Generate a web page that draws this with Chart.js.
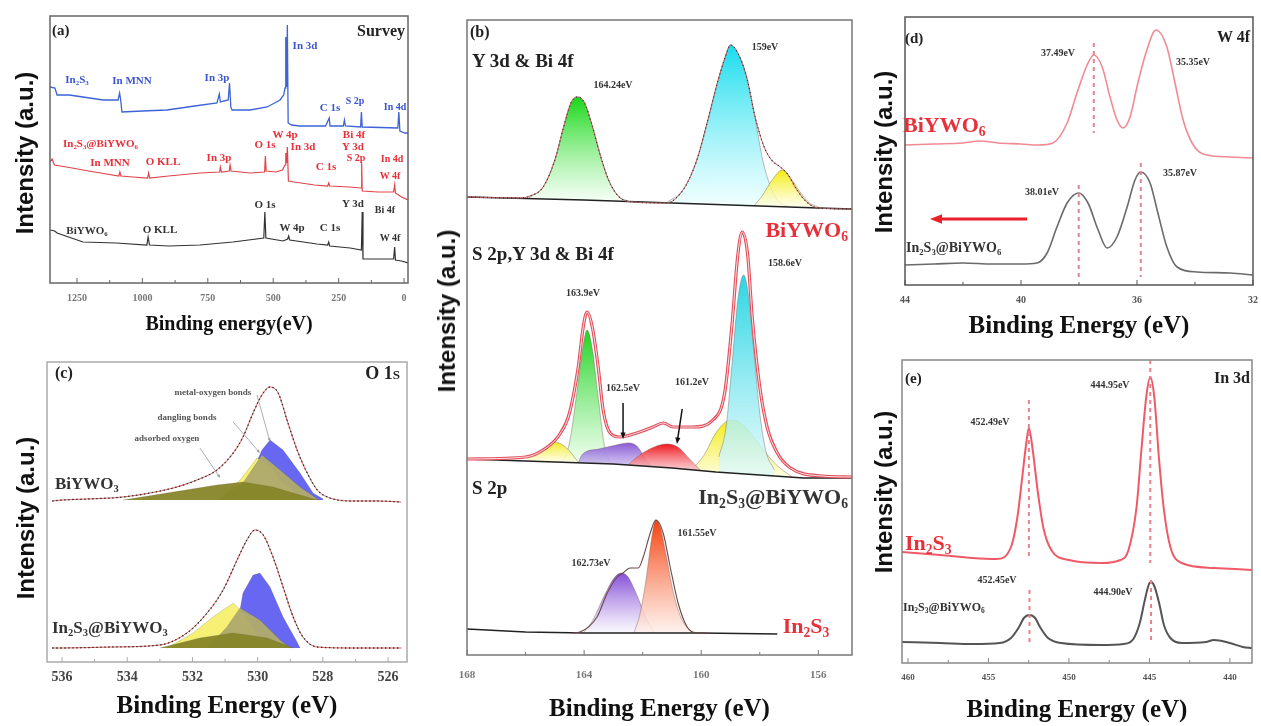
<!DOCTYPE html>
<html>
<head>
<meta charset="utf-8">
<script src="https://cdn.jsdelivr.net/npm/chart.js@4.4.0/dist/chart.umd.min.js"></script>
<style>
  body { margin: 0; background: #fff; }
  #fig { position: relative; width: 1261px; height: 726px; overflow: hidden; }
  #fig canvas { position: absolute; }
  .t { position: absolute; white-space: nowrap; line-height: 1; font-family: "Liberation Serif", "DejaVu Serif", serif; font-weight: bold; }
  .t sub { font-size: 0.62em; vertical-align: -0.3em; line-height: 0; }
  .yt { position: absolute; white-space: nowrap; font: bold 24px "Liberation Sans", Arial, sans-serif; color: #111; transform: translate(-50%, -50%) rotate(-90deg); }
</style>
</head>
<body>
<div id="fig">
  <canvas id="ca" width="420" height="340" style="left:0;top:0"></canvas>
  <canvas id="cb" width="440" height="726" style="left:425px;top:0"></canvas>
  <canvas id="cc" width="420" height="381" style="left:0;top:345px"></canvas>
  <canvas id="cd" width="391" height="345" style="left:870px;top:0"></canvas>
  <canvas id="ce" width="391" height="381" style="left:870px;top:345px"></canvas>
</div>
<script>
// all spectra are [binding energy (eV), intensity (a.u.)], high energy first

// (a) survey
const surveyIn2S3 = [[1353,196],[1334,195],[1326,188],[1280,188],[1227,186],[1150,183],[1093,183],[1087,190],[1083,183],[1078,171],[1000,172],[906,173],[800,177],[715,180],[706,189],[702,181],[672,183],[667,200],[662,176],[657,173],[588,173],[523,176],[474,183],[460,188],[455,195],[452,246],[449,196],[446,258],[443,160],[430,158],[398,157],[300,157],[286,165],[283,157],[232,157],[228,163],[224,157],[166,156],[163,171],[160,156],[24,155],[20,171],[16,152],[-3,150],[-15,150]];
const surveyComposite = [[1353,121],[1345,124],[1336,118],[1290,116],[1227,113],[1160,110],[1090,107],[1086,111],[1082,107],[1036,106],[980,105],[976,110],[972,105],[900,107],[780,110],[705,111],[702,116],[698,111],[668,112],[665,118],[661,112],[588,110],[533,111],[530,127],[527,112],[490,111],[465,113],[455,118],[452,130],[449,120],[446,136],[442,102],[420,101],[342,98],[292,97],[288,100],[284,97],[210,96],[164,95],[162,120],[160,92],[100,91],[40,91],[36,98],[33,90],[10,86],[-15,83]];
const surveyBiYWO6 = [[1353,53],[1335,52],[1326,50],[1227,41],[1100,40],[983,38],[978,46],[973,38],[900,37],[780,38],[654,41],[536,45],[532,71],[528,45],[462,42],[445,44],[441,47],[437,43],[333,39],[292,38],[288,41],[284,37],[206,35],[163,33],[160,71],[157,24],[100,24],[40,24],[36,36],[33,23],[10,22],[-15,20]];

// (b) Y 3d & Bi 4f of BiYWO6
const bBase1 = [[168,458],[164,455],[161,452],[158,449],[156,447],[154.85,446]];
const bEnv1 = [[168,458],[166.2,457],[165.85,459],[165.4,468],[165.0,495],[164.7,528],[164.45,552],[164.24,558],[164.0,553],[163.75,532],[163.45,500],[163.15,474],[162.8,458],[162.3,453],[161.2,452],[160.6,466],[160.15,495],[159.8,532],[159.45,572],[159.18,598],[159.0,610],[158.75,602],[158.45,578],[158.15,537],[157.85,508],[157.6,495],[157.3,488],[157.05,481],[156.75,466],[156.4,453],[156.0,447],[154.85,446]];
const bGreen1 = [[165.9,457],[165.4,468],[165.0,495],[164.7,528],[164.45,552],[164.24,558],[164.0,553],[163.75,532],[163.45,500],[163.15,474],[162.8,458],[162.5,454]];
const bCyan1 = [[161.2,452],[160.6,466],[160.15,495],[159.8,532],[159.45,572],[159.18,598],[159.0,610],[158.75,602],[158.45,578],[158.15,535],[157.9,495],[157.6,466],[157.3,452],[157.0,449]];
const bYellow1 = [[158.2,449],[157.9,460],[157.6,474],[157.23,485],[156.9,475],[156.6,462],[156.3,452],[156.0,448]];

// (b) S 2p, Y 3d & Bi 4f of In2S3@BiYWO6
const bBase2 = [[168,196],[165,193],[163,191],[161,187],[159.5,183],[158,180],[156.5,177],[154.85,177]];
const bEnv2 = [[168,196],[166,198],[165.3,207],[164.85,220],[164.5,242],[164.2,288],[164.03,328],[163.9,343],[163.72,328],[163.52,288],[163.35,245],[163.11,222],[162.77,218],[162.2,222],[161.65,228],[161.3,232],[160.96,228],[160.3,228],[159.6,235],[159.2,262],[158.95,330],[158.75,400],[158.6,423],[158.42,402],[158.25,335],[158.0,268],[157.75,228],[157.4,202],[156.95,187],[155.9,179],[154.85,178]];
const bYellowL2 = [[165.95,197],[165.5,203],[165.0,213],[164.6,207],[164.2,193]];
const bGreen2 = [[164.75,193],[164.5,212],[164.25,262],[164.05,306],[163.9,325],[163.72,306],[163.52,258],[163.3,208],[163.1,192]];
const bPurple2 = [[164.2,192],[164.05,201],[163.5,206],[162.9,210],[162.5,212],[162.2,209],[161.9,196],[161.7,188]];
const bRed2 = [[162.5,190],[162.1,200],[161.6,208],[161.2,211],[160.8,208],[160.4,196],[160.0,184]];
const bYellowR2 = [[160.3,186],[159.9,200],[159.5,222],[159.1,234],[158.9,235],[158.5,228],[158.0,210],[157.5,192],[156.9,178]];
const bCyan2 = [[159.4,198],[159.15,228],[158.95,290],[158.75,355],[158.55,380],[158.4,362],[158.2,302],[158.0,242],[157.8,205],[157.5,185]];

// (b) S 2p of In2S3
const bBase3 = [[168,26],[166,23],[164,22],[160,22],[157.4,21]];
const bEnv3 = [[164.4,22],[164.14,23],[163.56,38],[163.21,62],[162.87,78],[162.67,82],[162.43,87],[162.15,87],[161.98,98],[161.74,122],[161.55,135],[161.3,122],[161.06,88],[160.79,52],[160.48,28],[160.14,22],[159.8,22]];
const bPurple3 = [[164.03,22],[163.7,35],[163.3,60],[162.95,78],[162.73,82],[162.5,78],[162.2,60],[161.9,38],[161.6,22]];
const bOrange3 = [[162.3,22],[162.1,40],[161.9,72],[161.7,115],[161.55,135],[161.4,128],[161.2,100],[160.95,62],[160.7,38],[160.4,25],[160.14,22]];

// (c) O 1s
const cEnvTop = [[536.3,161],[536.0,162],[535.2,163],[534.13,165],[533.3,169],[532.59,174],[531.86,182],[531.25,192],[530.75,209],[530.45,225],[530.14,249],[529.87,267],[529.62,275],[529.37,269],[529.1,242],[528.79,212],[528.48,189],[528.17,172],[527.78,164],[527.0,161],[526.3,161],[525.6,160]];
const cBlueTop = [[530.33,163],[530.14,192],[529.87,212],[529.62,222],[529.22,212],[528.7,189],[528.3,169],[527.99,163]];
const cYellowTop = [[531.15,164],[530.54,182],[530.14,199],[530.02,204],[529.6,196],[529.31,182],[528.61,163]];
const cKhakiTop = [[531.15,163],[530.45,179],[529.87,207],[529.31,192],[528.7,175],[528.17,163]];
const cOliveTop = [[534.13,162],[532.59,170],[531.25,177],[530.45,180],[529.53,175],[528.7,167],[528.17,162]];
const cEnvBot = [[536.3,14],[536.0,14],[534.5,15],[533.0,17],[532.17,29],[531.55,49],[531.06,72],[530.63,102],[530.33,122],[530.08,132],[529.83,127],[529.53,105],[529.22,75],[528.91,45],[528.61,25],[528.17,15],[527.0,14],[526.0,14],[525.6,14]];
const cBlueBot = [[530.75,14],[530.45,69],[530.14,87],[529.93,89],[529.62,75],[529.22,45],[528.79,20],[528.7,14]];
const cYellowBot = [[532.78,14],[531.98,29],[531.37,45],[530.75,59],[530.33,45],[529.93,22],[529.71,14]];
const cKhakiBot = [[531.55,14],[530.94,35],[530.54,54],[529.93,42],[529.31,22],[529.0,14]];
const cOliveBot = [[533.0,14],[531.77,24],[530.75,29],[529.71,24],[528.91,14]];

// (d) W 4f
const dBiYWO6 = [[44.0,140],[43.0,141],[42.0,142],[41.4,144],[40.8,142],[40.0,141],[39.4,140],[38.9,142],[38.41,162],[38.07,192],[37.72,220],[37.49,230],[37.2,218],[36.93,188],[36.69,165],[36.48,157],[36.24,168],[35.97,202],[35.66,235],[35.35,255],[34.97,238],[34.69,202],[34.41,165],[34.1,142],[33.72,131],[32.79,128],[32.0,127]];
const dComposite = [[44.0,20],[43.0,21],[42.0,22],[41.0,21],[40.0,21],[39.45,22],[39.1,32],[38.76,58],[38.41,82],[38.01,92],[37.69,82],[37.34,55],[37.03,37],[36.69,48],[36.34,78],[36.07,105],[35.87,113],[35.55,102],[35.28,72],[34.97,38],[34.62,18],[33.93,13],[32.79,12],[32.0,10]];
const dPeakMarks = [[[37.49,242],[37.49,152]], [[38.01,100],[38.01,8]], [[35.87,122],[35.87,8]]];

// (e) In 3d
const eIn2S3 = [[460.37,111],[458,108],[456,105],[454.5,104],[453.6,116],[453.2,146],[452.9,186],[452.65,220],[452.49,235],[452.25,213],[451.95,173],[451.6,136],[451.1,113],[450,103],[448,100],[446.8,103],[446.3,113],[445.8,156],[445.5,213],[445.2,266],[444.95,286],[444.7,266],[444.4,203],[444.1,153],[443.7,116],[443,100],[441,95],[438.63,93]];
const eComposite = [[460.37,21],[458,20],[456,19],[454.3,20],[453.6,25],[453.1,36],[452.8,45],[452.45,48],[452.1,45],[451.8,36],[451.3,25],[450.5,20],[448,18],[446.6,19],[446,24],[445.6,40],[445.3,62],[445.05,78],[444.9,81],[444.7,77],[444.4,60],[444.1,38],[443.7,25],[443,20],[441.5,21],[441,23],[440,20],[439.2,16],[438.63,15]];
const ePeakMarks = [[[452.49,263],[452.49,106]], [[444.95,303],[444.95,100]], [[452.45,73],[452.45,20]], [[444.90,83],[444.90,23]]];

// ---------- helpers ----------
function line(data, color, width, order, extra) {
  return Object.assign({ data, borderColor: color, borderWidth: width, pointRadius: 0,
    fill: false, tension: 0, order }, extra || {});
}
function smooth(data, color, width, order, extra) {
  return line(data, color, width, order, Object.assign({ cubicInterpolationMode: 'monotone' }, extra || {}));
}
// vertical gradient from the peak of the dataset down to its lowest value
function grad(top, bottom) {
  return c => {
    const chart = c.chart, y = chart.scales && chart.scales.y;
    if (!chart.chartArea || !y || !c.dataset) return top;
    const vals = c.dataset.data.map(p => p[1]);
    const g = chart.ctx.createLinearGradient(0, y.getPixelForValue(Math.max(...vals)), 0, y.getPixelForValue(Math.min(...vals)));
    g.addColorStop(0, top);
    g.addColorStop(1, bottom);
    return g;
  };
}
function peak(data, fillTo, top, bottom, order) {
  return smooth(data, 'rgba(120,95,95,0.55)', 0.8, order, { fill: fillTo, backgroundColor: grad(top, bottom) });
}
function area(data, fillTo, color, order) {
  return line(data, 'rgba(90,90,60,0.35)', 0.6, order, { fill: fillTo, backgroundColor: color });
}
function isMajor(v, m) { return Math.abs(v / m - Math.round(v / m)) < 1e-6; }

function arrow(ctx, x0, y0, x1, y1, color, width, head) {
  const a = Math.atan2(y1 - y0, x1 - x0);
  ctx.strokeStyle = color; ctx.fillStyle = color; ctx.lineWidth = width;
  ctx.beginPath();
  ctx.moveTo(x0, y0);
  ctx.lineTo(x1 - head * 0.7 * Math.cos(a), y1 - head * 0.7 * Math.sin(a));
  ctx.stroke();
  ctx.beginPath();
  ctx.moveTo(x1, y1);
  ctx.lineTo(x1 - head * Math.cos(a - 0.38), y1 - head * Math.sin(a - 0.38));
  ctx.lineTo(x1 - head * Math.cos(a + 0.38), y1 - head * Math.sin(a + 0.38));
  ctx.closePath();
  ctx.fill();
}

// box around the plot, inward tick marks with their labels, annotation arrows
const frame = {
  id: 'frame',
  afterDraw(chart, args, o) {
    const { ctx, chartArea: a, scales: { x, y } } = chart;
    ctx.save();
    ctx.strokeStyle = o.color; ctx.lineWidth = o.width;
    ctx.strokeRect(a.left, a.top, a.right - a.left, a.bottom - a.top);
    ctx.lineWidth = 1;
    ctx.font = `bold ${o.tickSize}px "Liberation Serif"`;
    ctx.textAlign = 'center';
    ctx.textBaseline = 'middle';
    x.ticks.forEach((t, i) => {
      const px = x.getPixelForTick(i);
      const major = isMajor(t.value, o.major);
      ctx.strokeStyle = o.color;
      ctx.beginPath();
      ctx.moveTo(px, a.bottom);
      ctx.lineTo(px, a.bottom - (major ? 5 : 3));
      ctx.stroke();
      if (major) {
        ctx.fillStyle = o.tickColor;
        ctx.fillText(String(Math.round(t.value)), px, a.bottom + o.tickGap);
      }
    });
    (o.arrows || []).forEach(r => arrow(ctx,
      x.getPixelForValue(r.from[0]), y.getPixelForValue(r.from[1]),
      x.getPixelForValue(r.to[0]), y.getPixelForValue(r.to[1]), r.color, r.width, r.head));
    ctx.restore();
  }
};

function panel(id, o) {
  return new Chart(document.getElementById(id), {
    type: 'line',
    data: { datasets: o.datasets },
    options: {
      responsive: false, animation: false, events: [],
      layout: { padding: o.pad },
      plugins: { legend: { display: false }, tooltip: { enabled: false },
        frame: { color: o.frameColor, width: 1.5, arrows: o.arrows, major: o.major,
          tickGap: o.tickGap, tickSize: o.tickSize, tickColor: o.tickColor } },
      scales: {
        x: {
          type: 'linear', reverse: true, min: o.xmin, max: o.xmax,
          afterFit: s => { s.height = o.xh; },
          // ticks on whole multiples of the step, from the low end of the range
          afterBuildTicks: s => {
            const t = [];
            for (let k = Math.ceil(s.min / o.step - 1e-9); k * o.step <= s.max + 1e-9; k++) {
              t.push({ value: +(k * o.step).toFixed(6) });
            }
            s.ticks = t;
          },
          grid: { display: false }, border: { display: false },
          ticks: { display: false, autoSkip: false },
          title: { display: true, text: o.xtitle || 'Binding Energy (eV)', color: '#111',
            font: { family: 'Liberation Serif', size: o.titleSize || 25, weight: 'bold' },
            padding: { top: 0, bottom: o.titlePad } }
        },
        y: { display: false, min: 0, max: o.ymax }
      }
    },
    plugins: [frame]
  });
}

// ---------- (a) survey ----------
panel('ca', {
  pad: { left: 50, right: 12, top: 16, bottom: 0 }, xh: 57,
  xmin: -15, xmax: 1353, step: 125, major: 250, ymax: 267,
  tickGap: 15, tickSize: 10, tickColor: '#777', frameColor: '#666',
  xtitle: 'Binding energy(eV)', titleSize: 20, titlePad: 3,
  datasets: [
    line(surveyIn2S3, '#3d63d6', 1.3, 2),
    line(surveyComposite, '#e0444a', 1.2, 1),
    line(surveyBiYWO6, '#333', 1.2, 0)
  ]
});

// ---------- (b) stacked high-resolution spectra ----------
panel('cb', {
  pad: { left: 42, right: 13, top: 20, bottom: 0 }, xh: 71,
  xmin: 154.85, xmax: 168, step: 2, major: 4, ymax: 635,
  tickGap: 20, tickSize: 11, tickColor: '#777', frameColor: '#777', titlePad: 1,
  arrows: [
    { from: [162.67, 252], to: [162.67, 216], color: '#111', width: 1.5, head: 7 },
    { from: [160.65, 246], to: [160.83, 211], color: '#111', width: 1.5, head: 7 }
  ],
  datasets: [
    line(bBase1, '#222', 1.6, 3),
    line(bBase2, '#222', 1.6, 3),
    line(bBase3, '#222', 1.6, 3),
    peak(bGreen1, 0, '#18d818', 'rgba(240,255,240,0.7)', 8),
    peak(bCyan1, 0, '#18dcee', 'rgba(235,255,255,0.7)', 8),
    peak(bYellow1, 0, '#f2ec0c', 'rgba(255,255,230,0.7)', 7),
    smooth(bEnv1, '#c06060', 1, 2),
    smooth(bEnv1, '#333', 1.2, 1, { borderDash: [1, 3] }),
    peak(bGreen2, 1, '#22d422', 'rgba(235,255,235,0.8)', 8),
    peak(bYellowL2, 1, '#f2ea28', 'rgba(255,255,225,0.8)', 7),
    peak(bPurple2, 1, '#8a5cd6', 'rgba(205,190,240,0.8)', 7),
    peak(bRed2, 1, '#f01820', 'rgba(250,200,205,0.8)', 6),
    peak(bYellowR2, 1, '#f2ec10', 'rgba(255,252,215,0.8)', 8),
    peak(bCyan2, 1, '#2ad6e4', 'rgba(220,248,250,0.8)', 6),
    smooth(bEnv2, '#e0505c', 3.2, 2),
    smooth(bEnv2, 'rgba(255,232,234,0.95)', 1, 1),
    peak(bPurple3, 2, '#8650d8', 'rgba(250,248,255,0.8)', 8),
    peak(bOrange3, 2, '#f5420e', 'rgba(255,240,234,0.8)', 7),
    smooth(bEnv3, '#6a4848', 1.1, 2)
  ]
});

// ---------- (c) O 1s ----------
panel('cc', {
  pad: { left: 47, right: 13, top: 17, bottom: 0 }, xh: 64,
  xmin: 525.42, xmax: 536.46, step: 1, major: 2, ymax: 300,
  tickGap: 15, tickSize: 14, tickColor: '#444', frameColor: '#aaa', titlePad: 4,
  arrows: [
    { from: [530.02, 267], to: [529.62, 220], color: '#999', width: 0.8, head: 4 },
    { from: [530.75, 240], to: [529.93, 209], color: '#999', width: 0.8, head: 4 },
    { from: [531.77, 214], to: [531.15, 184], color: '#999', width: 0.8, head: 4 }
  ],
  datasets: [
    area(cBlueTop, { value: 162 }, 'rgba(95,95,240,0.95)', 6),
    area(cYellowTop, { value: 162 }, 'rgba(246,240,110,0.95)', 5),
    area(cKhakiTop, { value: 162 }, 'rgba(176,170,108,0.97)', 4),
    area(cOliveTop, { value: 162 }, 'rgba(135,133,40,0.95)', 3),
    smooth(cEnvTop, '#e06060', 1, 2),
    smooth(cEnvTop, '#333', 1.3, 1, { borderDash: [1.5, 2.5] }),
    area(cBlueBot, { value: 14 }, 'rgba(95,95,240,0.95)', 6),
    area(cYellowBot, { value: 14 }, 'rgba(246,240,110,0.95)', 5),
    area(cKhakiBot, { value: 14 }, 'rgba(176,170,108,0.97)', 4),
    area(cOliveBot, { value: 14 }, 'rgba(135,133,40,0.95)', 3),
    smooth(cEnvBot, '#e06060', 1, 2),
    smooth(cEnvBot, '#333', 1.3, 1, { borderDash: [1.5, 2.5] })
  ]
});

// ---------- (d) W 4f ----------
panel('cd', {
  pad: { left: 35, right: 8, top: 17, bottom: 0 }, xh: 60,
  xmin: 32, xmax: 44, step: 2, major: 4, ymax: 268,
  tickGap: 15, tickSize: 10, tickColor: '#555', frameColor: '#555', titlePad: 3,
  arrows: [{ from: [39.79, 66], to: [43.14, 66], color: '#e8202a', width: 3, head: 13 }],
  datasets: [
    smooth(dBiYWO6, '#f08a94', 1.6, 1),
    smooth(dComposite, '#6a6a6a', 1.6, 1)
  ].concat(dPeakMarks.map(m => line(m, '#e8808e', 2, 0, { borderDash: [4, 4] })))
});

// ---------- (e) In 3d ----------
panel('ce', {
  pad: { left: 32, right: 9, top: 15, bottom: 0 }, xh: 63,
  xmin: 438.63, xmax: 460.37, step: 2.5, major: 5, ymax: 303,
  tickGap: 15, tickSize: 9, tickColor: '#555', frameColor: '#888', titlePad: 0,
  datasets: [
    smooth(eIn2S3, '#ef5a66', 2, 1),
    smooth(eComposite, '#555', 2, 1)
  ].concat(ePeakMarks.map(m => line(m, '#e8808e', 2, 0, { borderDash: [4, 4] })))
});

// ---------- text ----------
const BLUE = '#3c55d0', RED = '#e8303a', GREY = '#333';
const IS = 'In<sub>2</sub>S<sub>3</sub>';
const notes = [
  // [html, x, y, size, color, anchor]
  ['(a)', 52, 30, 15, '#222', 'l'], ['Survey', 405, 31, 16, '#222', 'r'],
  [IS, 77, 79, 11, BLUE, 'c'], ['In MNN', 132, 80, 11, BLUE, 'c'], ['In 3p', 217, 77, 11, BLUE, 'c'],
  ['In 3d', 305, 45, 11, BLUE, 'c'], ['C 1s', 330, 107, 11, BLUE, 'c'], ['S 2p', 355, 101, 10, BLUE, 'c'],
  ['In 4d', 395, 107, 10, BLUE, 'c'],
  [IS + '@BiYWO<sub>6</sub>', 63, 143, 11, RED, 'l'], ['In MNN', 110, 162, 11, RED, 'c'],
  ['O KLL', 163, 161, 11, RED, 'c'], ['In 3p', 219, 157, 11, RED, 'c'], ['O 1s', 265, 144, 11, RED, 'c'],
  ['W 4p', 285, 134, 11, RED, 'c'], ['In 3d', 303, 146, 11, RED, 'c'], ['C 1s', 326, 166, 11, RED, 'c'],
  ['Bi 4f', 354, 134, 11, RED, 'c'], ['Y 3d', 353, 146, 11, RED, 'c'], ['S 2p', 356, 158, 10, RED, 'c'],
  ['In 4d', 392, 159, 10, RED, 'c'], ['W 4f', 390, 176, 10, RED, 'c'],
  ['BiYWO<sub>6</sub>', 87, 230, 11, GREY, 'c'], ['O KLL', 160, 229, 11, GREY, 'c'], ['O 1s', 265, 204, 11, GREY, 'c'],
  ['W 4p', 292, 227, 11, GREY, 'c'], ['C 1s', 330, 227, 11, GREY, 'c'], ['Y 3d', 353, 203, 11, GREY, 'c'],
  ['Bi 4f', 385, 210, 10, GREY, 'c'], ['W 4f', 390, 238, 10, GREY, 'c'],

  ['(b)', 470, 32, 16, '#222', 'l'], ['Y 3d &amp; Bi 4f', 472, 60, 19, '#222', 'l'],
  ['164.24eV', 613, 85, 10, GREY, 'c'], ['159eV', 765, 47, 10, GREY, 'c'],
  ['BiYWO<sub>6</sub>', 848, 230, 22, RED, 'r'],
  ['S 2p,Y 3d &amp; Bi 4f', 472, 253, 19, '#222', 'l'],
  ['163.9eV', 583, 293, 10, GREY, 'c'], ['162.5eV', 623, 388, 10, GREY, 'c'],
  ['161.2eV', 692, 382, 10, GREY, 'c'], ['158.6eV', 785, 263, 10, GREY, 'c'],
  ['S 2p', 472, 487, 19, '#222', 'l'], [IS + '@BiYWO<sub>6</sub>', 848, 497, 22, '#333', 'r'],
  ['162.73eV', 591, 563, 10, GREY, 'c'], ['161.55eV', 697, 533, 10, GREY, 'c'],
  [IS, 806, 626, 22, RED, 'c'],

  ['(c)', 55, 373, 16, '#222', 'l'],
  ['O <span style="font-variant:small-caps">1s</span>', 400, 373, 18, '#222', 'r'],
  ['metal-oxygen bonds', 213, 392, 9, '#555', 'c'], ['dangling bonds', 187, 417, 9, '#555', 'c'],
  ['adsorbed oxygen', 167, 438, 9, '#555', 'c'],
  ['BiYWO<sub>3</sub>', 55, 483, 17, GREY, 'l'], [IS + '@BiYWO<sub>3</sub>', 52, 627, 17, GREY, 'l'],

  ['(d)', 905, 38, 15, '#222', 'l'], ['W 4f', 1250, 37, 16, '#222', 'r'],
  ['37.49eV', 1058, 53, 10, GREY, 'c'], ['35.35eV', 1193, 62, 10, GREY, 'c'],
  ['38.01eV', 1042, 192, 10, GREY, 'c'], ['35.87eV', 1180, 173, 10, GREY, 'c'],
  ['BiYWO<sub>6</sub>', 903, 125, 22, RED, 'l'], [IS + '@BiYWO<sub>6</sub>', 906, 248, 14, GREY, 'l'],

  ['(e)', 905, 378, 15, '#222', 'l'], ['In 3d', 1250, 378, 16, '#222', 'r'],
  ['452.49eV', 990, 422, 10, GREY, 'c'], ['444.95eV', 1110, 385, 10, GREY, 'c'],
  ['452.45eV', 997, 580, 10, GREY, 'c'], ['444.90eV', 1113, 592, 10, GREY, 'c'],
  [IS, 905, 543, 22, RED, 'l'], [IS + '@BiYWO<sub>6</sub>', 903, 607, 12, GREY, 'l']
];
const fig = document.getElementById('fig');
const shift = { l: 'translate(0,-50%)', c: 'translate(-50%,-50%)', r: 'translate(-100%,-50%)' };
notes.forEach(([html, x, y, size, color, anchor]) => {
  const d = document.createElement('div');
  d.className = 't';
  d.innerHTML = html;
  d.style.cssText = `left:${x}px;top:${y}px;font-size:${size}px;color:${color};transform:${shift[anchor]}`;
  fig.appendChild(d);
});
[[25, 153], [447, 311], [26, 518], [884, 152], [884, 492]].forEach(([x, y]) => {
  const d = document.createElement('div');
  d.className = 'yt';
  d.textContent = 'Intensity (a.u.)';
  d.style.left = x + 'px';
  d.style.top = y + 'px';
  fig.appendChild(d);
});
</script>
</body>
</html>
